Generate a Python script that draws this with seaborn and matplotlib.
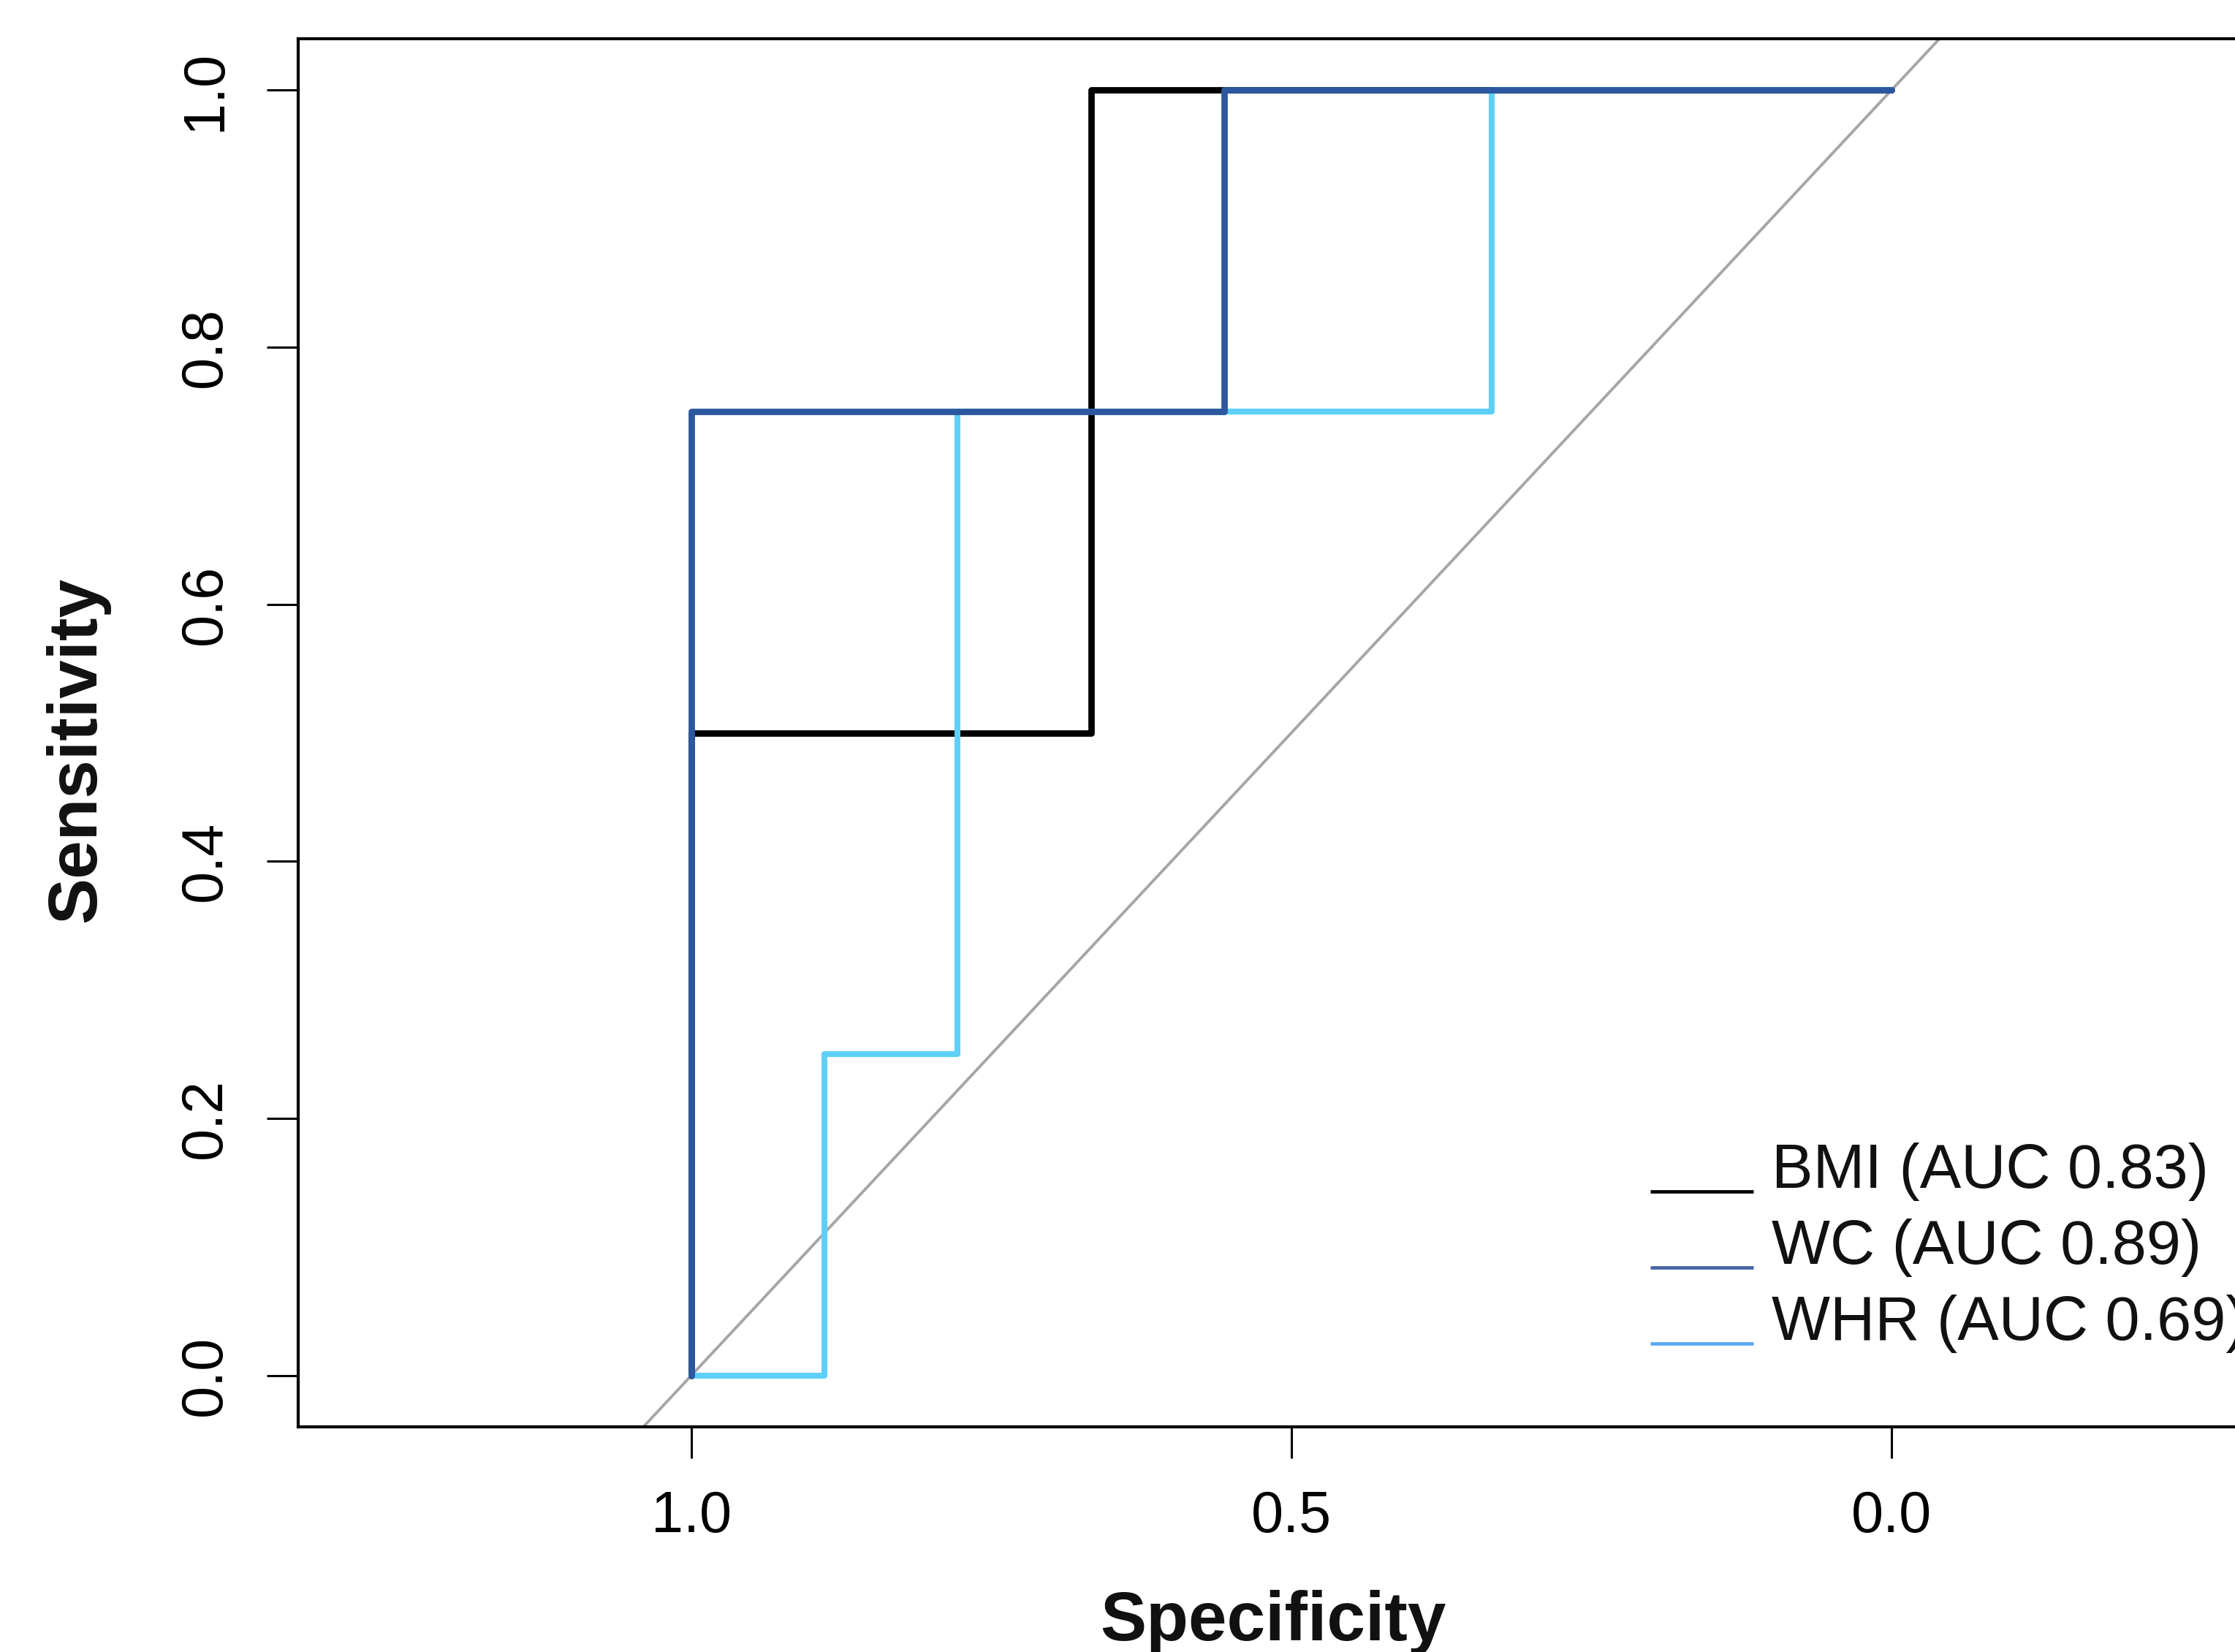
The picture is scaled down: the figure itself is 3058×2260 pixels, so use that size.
import numpy as np
import pandas as pd
import seaborn as sns
import matplotlib.pyplot as plt
from matplotlib.lines import Line2D
from matplotlib.legend_handler import HandlerLine2D

# ROC curve vertices (specificity, sensitivity)
bmi_spec = [1.0, 1.0, 0.667, 0.667, 0.0]
bmi_sens = [0.0, 0.5, 0.5, 1.0, 1.0]
wc_spec = [1.0, 1.0, 0.556, 0.556, 0.0]
wc_sens = [0.0, 0.75, 0.75, 1.0, 1.0]
whr_spec = [1.0, 0.889, 0.889, 0.778, 0.778, 0.333, 0.333, 0.0]
whr_sens = [0.0, 0.0, 0.25, 0.25, 0.75, 0.75, 1.0, 1.0]

markers_names = ['BMI', 'WC', 'WHR']
auc_values = [0.83, 0.89, 0.69]
curve_colors = {'BMI': '#000000', 'WC': '#2C58A0', 'WHR': '#5ED0F8'}
legend_colors = ['#000000', '#4765A8', '#5CA6F6']
draw_order = ['BMI', 'WHR', 'WC']

x_ticks = [1.0, 0.5, 0.0]
x_ticklabels = ['1.0', '0.5', '0.0']
y_ticks = [0.0, 0.2, 0.4, 0.6, 0.8, 1.0]
y_ticklabels = ['0.0', '0.2', '0.4', '0.6', '0.8', '1.0']

# long table for seaborn
frames = []
for name, sp, se in [('BMI', bmi_spec, bmi_sens), ('WC', wc_spec, wc_sens), ('WHR', whr_spec, whr_sens)]:
    frames.append(pd.DataFrame({'spec': sp, 'sens': se, 'marker': name, 'step': range(len(sp))}))
df = pd.concat(frames, ignore_index=True)

sns.set_style('ticks')
plt.rcParams['font.family'] = ['Liberation Sans', 'DejaVu Sans']
plt.rcParams['text.color'] = 'black'
plt.rcParams['axes.labelcolor'] = 'black'
plt.rcParams['xtick.color'] = 'black'
plt.rcParams['ytick.color'] = 'black'

fig = plt.figure(figsize=(30.58, 22.60), dpi=100)
ax = fig.add_axes([0.1334, 0.1363, 0.8888, 0.8402])

# chance line
ax.axline((1.0, 0.0), (0.0, 1.0), color='#A6A6A6', lw=2.8, zorder=1)

for name in draw_order:
    sub = df[df['marker'] == name]
    sns.lineplot(data=sub, x='spec', y='sens', sort=False, estimator=None,
                 color=curve_colors[name], lw=6.3 if name != 'WHR' else 5.8,
                 ax=ax, legend=False, zorder=2)

ax.set_xlim(1.3277, -0.3277)
ax.set_ylim(-0.04, 1.04)
ax.set_xticks(x_ticks)
ax.set_xticklabels(x_ticklabels)
ax.set_yticks(y_ticks)
ax.set_yticklabels(y_ticklabels, rotation=90, va='center')
ax.tick_params(axis='both', length=31, width=2.2, labelsize=57, color='black', labelcolor='black')
ax.tick_params(axis='x', pad=31)
ax.tick_params(axis='y', pad=33)

for s in ['left', 'bottom', 'top', 'right']:
    ax.spines[s].set_linewidth(3)
    ax.spines[s].set_color('black')

ax.set_xlabel('Specificity', fontsize=68, fontweight='bold', va='top', color='#111111')
ax.set_ylabel('Sensitivity', fontsize=68, fontweight='bold', color='#111111')
ax.xaxis.set_label_coords(0.491, -0.1174)
ax.yaxis.set_label_coords(-0.0949, 0.488)


class BaselineHandler(HandlerLine2D):
    # put the legend line on the text baseline, like the original
    def create_artists(self, legend, orig_handle, xdescent, ydescent, width, height, fontsize, trans):
        artists = super().create_artists(legend, orig_handle, xdescent, ydescent, width, height, fontsize, trans)
        for a in artists:
            a.set_ydata(np.full_like(np.asarray(a.get_xdata(), dtype=float), -0.06 * fontsize))
        return artists


handles = [Line2D([0], [0], color=c, lw=3.4, solid_capstyle='butt') for c in legend_colors]
labels = [f'{n} (AUC {a:.2f})' for n, a in zip(markers_names, auc_values)]
leg = ax.legend(handles, labels, loc='upper left', bbox_to_anchor=(0.6807, 0.2048),
                bbox_transform=ax.transAxes, frameon=False, fontsize=61,
                borderpad=0, borderaxespad=0, handlelength=1.66, handletextpad=0.30,
                labelspacing=0.28, handler_map={Line2D: BaselineHandler()})
for t in leg.get_texts():
    t.set_color('#111111')

fig.savefig('out.png', dpi=100)
